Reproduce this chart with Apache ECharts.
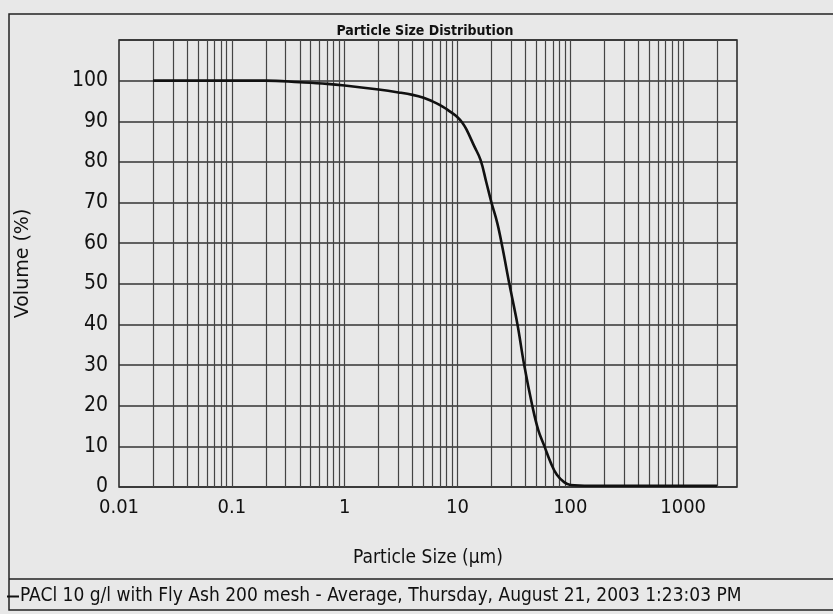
<!DOCTYPE html>
<html>
<head>
<meta charset="utf-8">
<script src="https://cdn.jsdelivr.net/npm/echarts@6/dist/echarts.min.js"></script>
<style>
  html, body { margin: 0; padding: 0; background: #e8e8e8; }
  #chart { width: 833px; height: 614px; }
</style>
</head>
<body>
<div id="chart"></div>
<script>
const SIZE_UM = [0.02, 0.05, 0.1, 0.2, 0.4, 0.7, 1, 2, 3, 4, 5, 6, 7, 8, 9, 10, 11, 12, 14, 16, 18, 20, 22.5, 25, 28.8, 34, 39, 46, 52, 59, 67, 76, 88, 100, 150, 300, 1000, 2000];
const VOLUME_PCT = [100, 100, 100, 100, 99.6, 99.2, 98.8, 97.8, 97.1, 96.5, 95.8, 94.9, 94, 93, 92, 91, 89.7, 88, 84, 80.5, 75, 70, 65, 59, 50, 40, 30, 20, 14, 10, 6, 3, 1.2, 0.5, 0.3, 0.3, 0.3, 0.3];

const X_TICKS = [0.01, 0.1, 1, 10, 100, 1000];
const X_TICK_LABELS = ["0.01", "0.1", "1", "10", "100", "1000"];
const Y_TICKS = [0, 10, 20, 30, 40, 50, 60, 70, 80, 90, 100];

// vertical grid: every 1..9 step of each decade
const X_GRID = [
  0.02, 0.03, 0.04, 0.05, 0.06, 0.07, 0.08, 0.09,
  0.1, 0.2, 0.3, 0.4, 0.5, 0.6, 0.7, 0.8, 0.9,
  1, 2, 3, 4, 5, 6, 7, 8, 9,
  10, 20, 30, 40, 50, 60, 70, 80, 90,
  100, 200, 300, 400, 500, 600, 700, 800, 900,
  1000, 2000
];

const SERIES_NAME = "PACl 10 g/l with Fly Ash 200 mesh - Average, Thursday, August 21, 2003 1:23:03 PM";
const NARROW = "'Liberation Sans Narrow', 'DejaVu Sans Condensed', 'Liberation Sans', sans-serif";

function xLabel(value) {
  const i = X_TICKS.findIndex((t) => Math.abs(value - t) / t < 1e-6);
  return i >= 0 ? X_TICK_LABELS[i] : "";
}

function yLabel(value) {
  return Y_TICKS.includes(Math.round(value)) ? String(Math.round(value)) : "";
}

const chart = echarts.init(document.getElementById("chart"), null, { renderer: "canvas" });

chart.setOption({
  backgroundColor: "#e8e8e8",
  animation: false,
  title: {
    text: "Particle Size Distribution",
    left: 420,
    textAlign: "center",
    top: 19,
    textStyle: { fontFamily: NARROW, fontSize: 14, fontWeight: "bold", color: "#111" }
  },
  grid: {
    left: 119,
    right: 96,
    top: 40,
    bottom: 127,
    show: true,
    borderColor: "#222",
    borderWidth: 1.5
  },
  legend: {
    left: 2,
    top: 582,
    itemWidth: 12,
    itemHeight: 2,
    itemGap: 0,
    textStyle: { fontFamily: NARROW, fontSize: 19, color: "#111", padding: [0, 0, 0, -4] },
    data: [{ name: SERIES_NAME, icon: "rect" }]
  },
  xAxis: {
    type: "log",
    logBase: 10,
    min: 0.01,
    max: 3000,
    name: "Particle Size (\u00b5m)",
    nameLocation: "middle",
    nameGap: 62,
    nameTextStyle: { fontFamily: NARROW, fontSize: 19, color: "#111" },
    axisLine: { show: false },
    axisTick: { show: false },
    splitLine: { show: false },
    axisLabel: {
      formatter: xLabel,
      margin: 11,
      fontFamily: NARROW,
      fontSize: 20,
      color: "#111"
    }
  },
  yAxis: {
    type: "value",
    min: 0,
    max: 110,
    interval: 10,
    name: "Volume (%)",
    nameLocation: "middle",
    nameGap: 86,
    nameTextStyle: { fontFamily: "'DejaVu Sans', sans-serif", fontSize: 19, color: "#111" },
    axisLine: { show: false },
    axisTick: { show: false },
    splitLine: { show: true, lineStyle: { color: "#333", width: 1.5 } },
    axisLabel: {
      formatter: yLabel,
      margin: 11,
      fontFamily: NARROW,
      fontSize: 21,
      color: "#111"
    }
  },
  graphic: [
    {
      type: "rect",
      silent: true,
      shape: { x: 9, y: 14, width: 840, height: 596 },
      style: { fill: null, stroke: "#222", lineWidth: 1.5 }
    },
    {
      type: "line",
      silent: true,
      shape: { x1: 9, y1: 579, x2: 833, y2: 579 },
      style: { stroke: "#222", lineWidth: 1.5 }
    }
  ],
  series: [
    {
      name: SERIES_NAME,
      type: "line",
      data: SIZE_UM.map((x, i) => [x, VOLUME_PCT[i]]),
      symbol: "none",
      smooth: 0.4,
      lineStyle: { color: "#111", width: 2.6 },
      itemStyle: { color: "#111" },
      z: 5,
      markLine: {
        silent: true,
        symbol: "none",
        label: { show: false },
        lineStyle: { color: "#444", width: 1.2, type: "solid" },
        data: X_GRID.map((x) => ({ xAxis: x }))
      }
    }
  ]
});
</script>
</body>
</html>
